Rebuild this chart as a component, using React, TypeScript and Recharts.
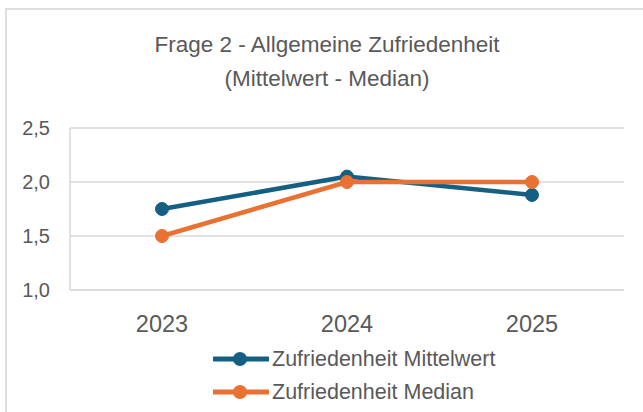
import React from 'react';
import { LineChart, Line, XAxis, YAxis, CartesianGrid } from 'recharts';

const categories = ['2023', '2024', '2025'];
const mittelwert = [1.75, 2.05, 1.88];
const median = [1.5, 2.0, 2.0];
const yTicks = [1.0, 1.5, 2.0, 2.5];
const titleLines = ['Frage 2 - Allgemeine Zufriedenheit', '(Mittelwert - Median)'];
const seriesNames = ['Zufriedenheit Mittelwert', 'Zufriedenheit Median'];
const seriesColors = ['#156082', '#E97132'];

const data = categories.map((c, i) => ({ year: c, mittel: mittelwert[i], median: median[i] }));

const FONT = '"Liberation Sans", Arial, sans-serif';
const TEXT = '#595959';
const GRID = '#d9d9d9';

export default function App() {
  return (
    <div style={{ position: 'absolute', left: 0, top: 0, width: 643, height: 412, overflow: 'hidden', background: '#fff', fontFamily: FONT }}>
      <div style={{ position: 'absolute', left: 5, top: 8, width: 700, height: 500, border: '2px solid #dedede', boxSizing: 'border-box' }} />
      <div style={{ position: 'absolute', left: 0, width: 654, top: 28, textAlign: 'center', color: TEXT, fontSize: 22.5, lineHeight: '34px' }}>
        {titleLines.map((t) => (
          <div key={t}>{t}</div>
        ))}
      </div>
      <div style={{ position: 'absolute', left: 0, top: 0 }}>
        <LineChart width={643} height={412} data={data} margin={{ top: 128, right: 19, left: 10, bottom: 82 }}>
          <CartesianGrid vertical={false} stroke={GRID} strokeWidth={1.5} />
          <XAxis
            dataKey="year"
            padding={{ left: 92, right: 92 }}
            height={40}
            tickLine={false}
            tickSize={0}
            tickMargin={25}
            axisLine={{ stroke: GRID, strokeWidth: 1.5 }}
            tick={{ fill: TEXT, fontSize: 23.5, fontFamily: FONT }}
          />
          <YAxis
            domain={[1, 2.5]}
            ticks={yTicks}
            width={60}
            tickLine={false}
            tickSize={0}
            tickMargin={20}
            axisLine={{ stroke: GRID, strokeWidth: 1.5 }}
            tickFormatter={(v: number) => v.toFixed(1).replace('.', ',')}
            tick={{ fill: TEXT, fontSize: 20, fontFamily: FONT }}
          />
          <YAxis
            yAxisId="right"
            orientation="right"
            domain={[1, 2.5]}
            width={0}
            tick={false}
            tickLine={false}
            axisLine={{ stroke: GRID, strokeWidth: 1.5 }}
          />
          <Line
            type="linear"
            dataKey="mittel"
            name={seriesNames[0]}
            stroke={seriesColors[0]}
            strokeWidth={4.5}
            dot={{ r: 6.5, fill: seriesColors[0], stroke: seriesColors[0], strokeWidth: 1 }}
            isAnimationActive={false}
          />
          <Line
            type="linear"
            dataKey="median"
            name={seriesNames[1]}
            stroke={seriesColors[1]}
            strokeWidth={4.5}
            dot={{ r: 6.5, fill: seriesColors[1], stroke: seriesColors[1], strokeWidth: 1 }}
            isAnimationActive={false}
          />
        </LineChart>
      </div>
      {seriesNames.map((n, i) => (
        <div key={n} style={{ position: 'absolute', left: 213, top: 359 + i * 33 - 15, height: 30, display: 'flex', alignItems: 'center' }}>
          <svg width={56} height={30} style={{ display: 'block' }}>
            <line x1={1} y1={15} x2={55} y2={15} stroke={seriesColors[i]} strokeWidth={5} strokeLinecap="round" />
            <circle cx={27} cy={15} r={7} fill={seriesColors[i]} />
          </svg>
          <span style={{ marginLeft: 3, color: TEXT, fontSize: 21.5, whiteSpace: 'nowrap' }}>{n}</span>
        </div>
      ))}
    </div>
  );
}
